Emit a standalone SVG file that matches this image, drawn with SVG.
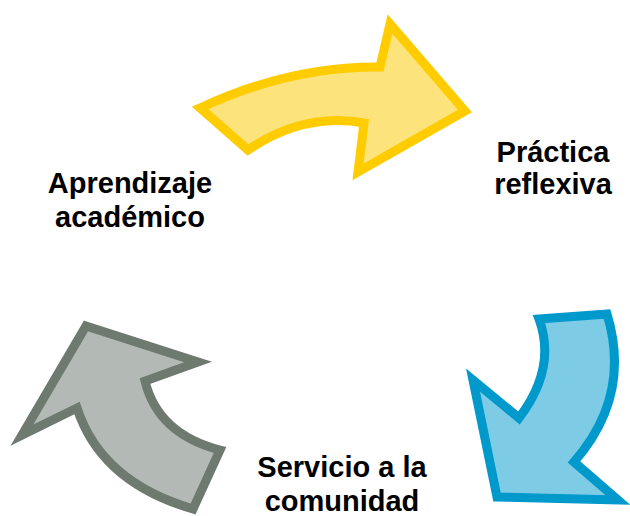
<svg xmlns="http://www.w3.org/2000/svg" width="630" height="516" viewBox="0 0 630 516">
<style>
.lbl{font-family:"Liberation Sans",Arial,sans-serif;font-weight:bold;font-size:29px;fill:#000;text-anchor:middle}
.arr{stroke-width:9;stroke-linejoin:miter;stroke-miterlimit:10}
</style>
<rect width="630" height="516" fill="#fff"/>
<g id="connectors">
<path id="arrow-yellow" class="arr" fill="#FDE37B" stroke="#FFCC00" d="M200,108 Q290,66 380,67 L390,24 L465,111 L358,172 L364,123 Q304,112 248,150 Z"/>
<path id="arrow-blue" class="arr" fill="#7ECBE5" stroke="#0099CC" d="M539,319 L607,314 Q632,396 574,462 L618,500 L497,497 L473,380 L519,418 Q557,368 539,319 Z"/>
<path id="arrow-grey" class="arr" fill="#B3BAB5" stroke="#6E7A70" d="M86,326 L198,362 L145,381 Q158,434 220,450 L193,509 Q101,482 77,408 L22,435 Z"/>
</g>
<g id="node-aprendizaje"><text class="lbl" x="130" y="193">Aprendizaje</text><text class="lbl" x="130" y="227">académico</text></g>
<g id="node-practica"><text class="lbl" x="553" y="162">Práctica</text><text class="lbl" x="553" y="194">reflexiva</text></g>
<g id="node-servicio"><text class="lbl" x="342" y="477">Servicio a la</text><text class="lbl" x="342" y="511">comunidad</text></g>
</svg>
